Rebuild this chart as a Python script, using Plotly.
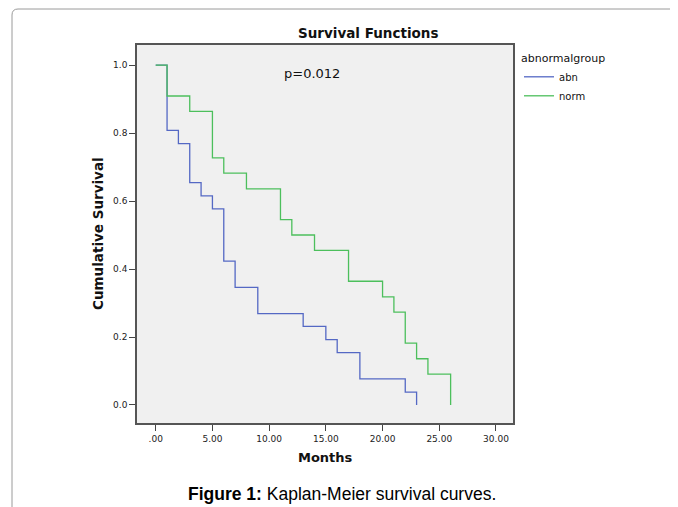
import plotly.graph_objects as go

# ---- data ----
abn_months = [0, 1, 2, 3, 4, 5, 6, 7, 9, 13, 15, 16, 18, 22, 23]
abn_surv = [1.0, 0.808, 0.769, 0.654, 0.615, 0.577, 0.423, 0.346, 0.269, 0.231, 0.192, 0.154, 0.077, 0.038, 0.0]

norm_months = [0, 1, 3, 5, 6, 8, 11, 12, 14, 17, 20, 21, 22, 23, 24, 26]
norm_surv = [1.0, 0.909, 0.864, 0.727, 0.682, 0.636, 0.545, 0.5, 0.455, 0.364, 0.318, 0.273, 0.182, 0.136, 0.091, 0.0]

x_ticks = [0, 5, 10, 15, 20, 25, 30]
x_tick_labels = [".00", "5.00", "10.00", "15.00", "20.00", "25.00", "30.00"]
y_ticks = [0.0, 0.2, 0.4, 0.6, 0.8, 1.0]
y_tick_labels = ["0.0", "0.2", "0.4", "0.6", "0.8", "1.0"]

# ---- layout geometry (pixels in the reference picture) ----
W, H = 678, 507
O = 8  # page body margin offset
L, R, T, B = 137 - O, 513 - O, 45 - O, 423 - O
PW, PH = R - L, B - T


def px(x):
    return (x - O - L) / PW


def py(y):
    return (B - (y - O)) / PH


FONT = "DejaVu Sans"

fig = go.Figure()
fig.add_trace(go.Scatter(x=abn_months, y=abn_surv, mode="lines", name="abn",
                         line=dict(shape="hv", color="#5468c4", width=1.3)))
fig.add_trace(go.Scatter(x=norm_months, y=norm_surv, mode="lines", name="norm",
                         line=dict(shape="hv", color="#4cbf5c", width=1.3)))

axis_common = dict(showgrid=False, zeroline=False, showline=True, linecolor="#555555",
                   linewidth=1.5, mirror=True, ticks="outside", ticklen=6, tickwidth=1.2,
                   tickcolor="#444444", tickfont=dict(family=FONT, size=9, color="#222222"))

fig.update_xaxes(range=[-1.65, 31.5], tickvals=x_ticks, ticktext=x_tick_labels, **axis_common)
fig.update_yaxes(range=[-0.053, 1.059], tickvals=y_ticks, ticktext=y_tick_labels, **axis_common)

outer = (f"M {px(12)},{py(540)} L {px(12)},{py(15)} Q {px(12)},{py(9)} {px(18)},{py(9)} "
         f"L {px(720)},{py(9)}")


def note(text, x, y, size, family=FONT, angle=0, color="#111111"):
    return dict(text=text, xref="paper", yref="paper", x=px(x), y=py(y),
                xanchor="center", yanchor="middle", showarrow=False, textangle=angle,
                font=dict(family=family, size=size, color=color))


fig.update_layout(
    width=W, height=H,
    margin=dict(l=L, r=W - R, t=T, b=H - B),
    paper_bgcolor="white", plot_bgcolor="#f0f0f0",
    font=dict(family=FONT, color="#111111"),
    showlegend=True,
    legend=dict(title=dict(text="abnormalgroup", font=dict(family=FONT, size=11, color="#111111")),
                x=px(519), y=py(48), xanchor="left", yanchor="top",
                font=dict(family=FONT, size=10, color="#111111"),
                bgcolor="rgba(0,0,0,0)", itemwidth=30, tracegroupgap=0),
    shapes=[dict(type="path", xref="paper", yref="paper", path=outer,
                 line=dict(color="#9a9a9a", width=1))],
    annotations=[
        note("<b>Survival Functions</b>", 368, 33, 13.5),
        note("p=0.012", 312, 73, 13),
        note("<b>Months</b>", 325, 457, 13),
        note("<b>Cumulative Survival</b>", 98, 234, 13.5, angle=-90),
        note("<b>Figure 1:</b> Kaplan-Meier survival curves.", 342, 494, 17.5,
             family="Liberation Sans", color="#000000"),
    ],
)

fig.write_html("out.html")
